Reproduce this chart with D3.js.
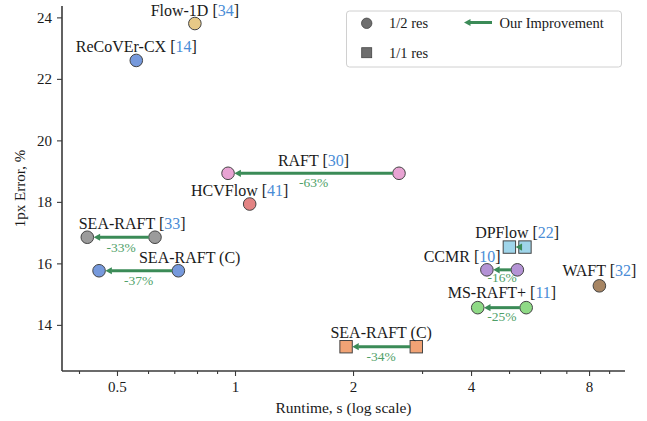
<!DOCTYPE html>
<html><head><meta charset="utf-8">
<script src="https://cdn.jsdelivr.net/npm/d3@7"></script>
<style>
html,body{margin:0;padding:0;background:#fff;}
svg{display:block;font-family:"Liberation Serif","Times New Roman",serif;}
</style></head>
<body><svg id="chart" width="647" height="421"></svg>
<script>
// ---------------- data ----------------
const methods    = ["Flow-1D","ReCoVEr-CX","RAFT","HCVFlow","SEA-RAFT","SEA-RAFT (C)","DPFlow","CCMR","WAFT","MS-RAFT+","SEA-RAFT (C)"];
const refs       = ["34","14","30","41","33",null,"22","10","32","11",null];
const resolution = ["1/2","1/2","1/2","1/2","1/2","1/2","1/1","1/2","1/2","1/2","1/1"];
const runtimeBase= [0.79,0.56,2.62,1.09,0.625,0.717,5.49,5.25,8.5,5.53,2.90];
const runtimeOurs= [null,null,0.96,null,0.42,0.45,5.01,4.39,null,4.16,1.92];
const errorPct   = [23.8,22.6,18.93,17.93,16.85,15.76,16.53,15.79,15.27,14.56,13.29];
const improvement= [null,null,"-63%",null,"-33%","-37%",null,"-16%",null,"-25%","-34%"];
const xMajorTicks= [0.5,1,2,4,8];
const xMinorTicks= [0.4,0.6,0.7,0.8,0.9,3,5,6,7,9];
const yTicks     = [14,16,18,20,22,24];
const legendItems= ["1/2 res","1/1 res","Our Improvement"];

// ---------------- styles / layout ----------------
const colors = ["#e6c987","#7699dc","#e8a3d3","#e38383","#9b9b9b","#7699dc","#9fd5ea","#b493d5","#a78563","#8fda86","#f1a375"];
const labelDx = [0,0,0,-10,11,51,0,-40,0,0,0];
const labelDy = [-8,-8,-7,-8,-8,-8,-9,-8,-10,-9.5,-9];
const pctDy   = [14,14,14,14,15,14,14,12.5,14,13,14];
const arrowColor = "#3b8b57", pctColor = "#4f9f68", refColor = "#4a8cd6", spineColor = "#3a3a3a", textColor = "#1a1a1a";
const R = 6.3, SQ = 12.4;

const svg = d3.select("#chart");
const x = d3.scaleLog().domain([0.362, 9.88]).range([62, 625]);
const y = d3.scaleLinear().domain([12.5, 24.37]).range([371, 6]);

// axes
const gx = svg.append("g").attr("transform","translate(0,371)")
  .call(d3.axisBottom(x).tickValues(xMajorTicks).tickFormat(d3.format("")).tickSizeOuter(0).tickSize(5).tickPadding(5));
const gxm = svg.append("g").attr("transform","translate(0,371)")
  .call(d3.axisBottom(x).tickValues(xMinorTicks).tickFormat("").tickSizeOuter(0).tickSize(3));
gxm.select(".domain").remove();
const gy = svg.append("g").attr("transform","translate(62,0)")
  .call(d3.axisLeft(y).tickValues(yTicks).tickSizeOuter(0).tickSize(5).tickPadding(5));
[gx,gxm,gy].forEach(g=>{
  g.selectAll(".domain").attr("stroke",spineColor).attr("stroke-width",1.6);
  g.selectAll(".tick line").attr("stroke",spineColor).attr("stroke-width",1.1);
  g.selectAll(".tick text").attr("fill",textColor).style("font-family","Liberation Serif").style("font-size","15px");
});
gy.select(".domain").attr("d","M0,6V371");
gx.select(".domain").attr("d","M62,0H625");

// axis titles
svg.append("text").attr("x",343.5).attr("y",413).attr("text-anchor","middle")
  .attr("fill",textColor).style("font-size","15.5px").text("Runtime, s (log scale)");
svg.append("text").attr("transform","translate(25,188.5) rotate(-90)").attr("text-anchor","middle")
  .attr("fill",textColor).style("font-size","15px").text("1px Error, %");

// markers
function drawMarker(g, cx, cy, res, col){
  if(res==="1/1"){
    g.append("rect").attr("x",cx-SQ/2).attr("y",cy-SQ/2).attr("width",SQ).attr("height",SQ)
      .attr("fill",col).attr("stroke","#444").attr("stroke-width",1);
  } else {
    g.append("circle").attr("cx",cx).attr("cy",cy).attr("r",R)
      .attr("fill",col).attr("stroke","#444").attr("stroke-width",1);
  }
}
function drawArrow(g, xFrom, xTo, yy){
  // arrow pointing left: tip at xTo
  const head = 6.5, hw = 3.6;
  if(xFrom - xTo > head){
    g.append("line").attr("x1",xFrom).attr("x2",xTo+head-0.5).attr("y1",yy).attr("y2",yy)
      .attr("stroke",arrowColor).attr("stroke-width",3);
  }
  g.append("path").attr("d",`M${xTo},${yy}L${xTo+head},${yy-hw}L${xTo+head},${yy+hw}Z`).attr("fill",arrowColor);
}

const gm = svg.append("g");
methods.forEach((m,i)=>{
  const cy = y(errorPct[i]);
  const xb = x(runtimeBase[i]);
  const half = resolution[i]==="1/1" ? SQ/2 : R;
  drawMarker(gm, xb, cy, resolution[i], colors[i]);
  let mid = xb;
  if(runtimeOurs[i]!==null){
    const xo = x(runtimeOurs[i]);
    drawMarker(gm, xo, cy, resolution[i], colors[i]);
    drawArrow(gm, xb-half, xo+half, cy);
    mid = (xb+xo)/2;
  }
  // label
  const t = gm.append("text").attr("x",mid+labelDx[i]).attr("y",cy+labelDy[i]).attr("text-anchor","middle")
    .attr("fill",textColor).style("font-size","16px");
  t.append("tspan").text(m);
  if(refs[i]!==null){
    t.append("tspan").text(" [");
    t.append("tspan").attr("fill",refColor).text(refs[i]);
    t.append("tspan").text("]");
  }
  if(improvement[i]!==null){
    gm.append("text").attr("x",mid).attr("y",cy+pctDy[i]).attr("text-anchor","middle")
      .attr("fill",pctColor).style("font-size","13.5px").text(improvement[i]);
  }
});

// legend
const lg = svg.append("g");
lg.append("rect").attr("x",346.5).attr("y",11).attr("width",275).attr("height",56).attr("rx",3)
  .attr("fill","#fff").attr("stroke","#d0d0d0").attr("stroke-width",1);
lg.append("circle").attr("cx",366.7).attr("cy",23.3).attr("r",5.2).attr("fill","#6e6e6e").attr("stroke","#444").attr("stroke-width",0.8);
lg.append("rect").attr("x",361.7).attr("y",47.7).attr("width",10).attr("height",10).attr("fill","#6e6e6e").attr("stroke","#444").attr("stroke-width",0.8);
lg.append("text").attr("x",389).attr("y",28).attr("fill",textColor).style("font-size","14.5px").text(legendItems[0]);
lg.append("text").attr("x",389).attr("y",57.5).attr("fill",textColor).style("font-size","14.5px").text(legendItems[1]);
drawArrow(lg, 492, 464, 22.5);
lg.append("text").attr("x",499.5).attr("y",28).attr("fill",textColor).style("font-size","14.5px").text(legendItems[2]);
</script>
</body></html>
